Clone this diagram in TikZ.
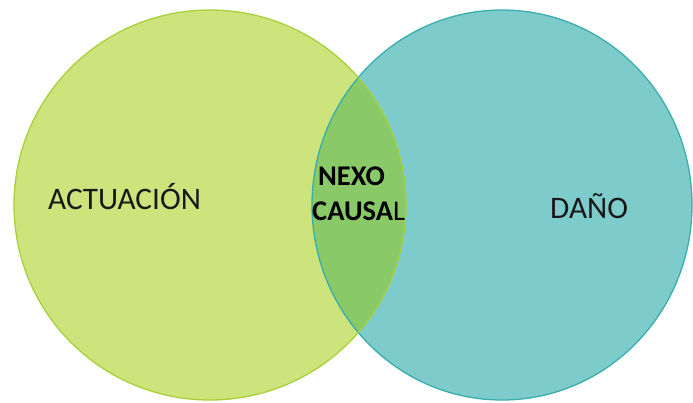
\documentclass[tikz,border=0pt]{standalone}
\usepackage{fontspec}
\setmainfont{Carlito}
\definecolor{actfill}{HTML}{CDE47D}
\definecolor{actline}{HTML}{A6D13A}
\definecolor{danfill}{HTML}{7ECBCB}
\definecolor{danline}{HTML}{3AADAD}
\definecolor{nexfill}{HTML}{89C967}
\tikzset{
  setline/.style={line width=1.3pt},
  biglabel/.style={anchor=base west, inner sep=0pt, font=\fontsize{31.3}{37}\selectfont, text=black!90},
  midlabel/.style={anchor=base west, inner sep=0pt, font=\fontsize{28.5}{34}\selectfont, text=black},
}
\begin{document}
\begin{tikzpicture}[x=1pt,y=-1pt]
  \useasboundingbox (0,0) rectangle (693,402);
  % the two sets
  \fill[actfill] (210,205) ellipse [x radius=196, y radius=195];
  \fill[danfill] (502,205) ellipse [x radius=190, y radius=195];
  % their intersection
  \begin{scope}
    \clip (210,205) ellipse [x radius=196, y radius=195];
    \fill[nexfill] (502,205) ellipse [x radius=190, y radius=195];
  \end{scope}
  % outlines
  \draw[setline, danline] (502,205) ellipse [x radius=190, y radius=195];
  \draw[setline, actline] (210,205) ellipse [x radius=196, y radius=195];
  % labels
  \node[biglabel] (act) at (48,209) {ACTUACIÓN};
  \node[biglabel] (dan) at (550,218) {DAÑO};
  \node[midlabel] (nexo) at (318,185) {\textbf{NEXO}};
  \node[midlabel] (causal) at (312,220) {\textbf{CAUSA}L};
\end{tikzpicture}
\end{document}
